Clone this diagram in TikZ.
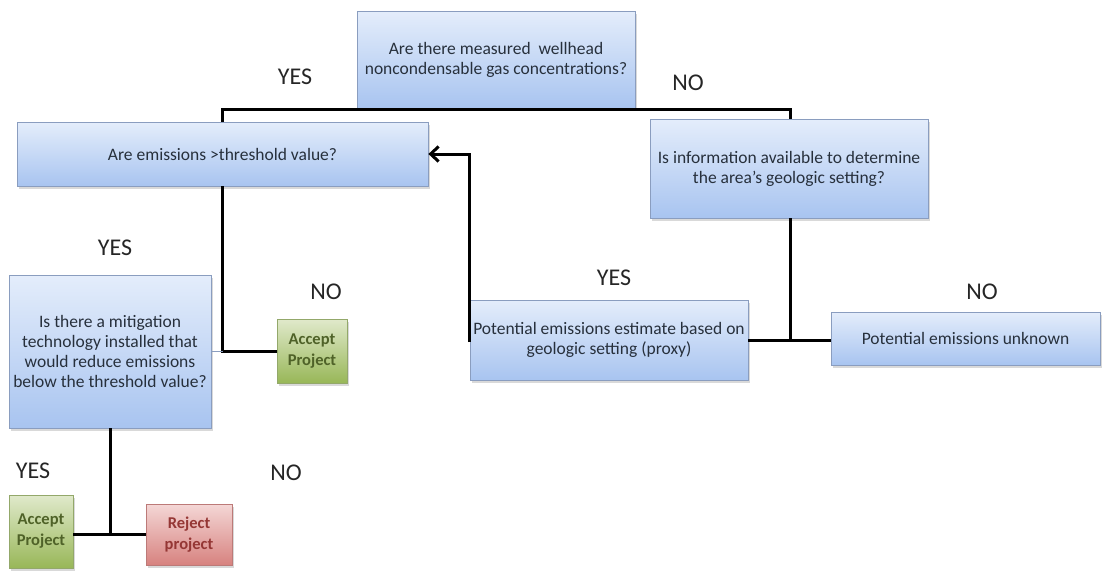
\documentclass[tikz,border=0pt]{standalone}
\usepackage{fontspec}
\setmainfont{Carlito}
\usetikzlibrary{arrows.meta,shadows}
\definecolor{bluetop}{HTML}{E4EDFB}
\definecolor{bluebot}{HTML}{A8C4F0}
\definecolor{blueborder}{HTML}{8A9DBF}
\definecolor{boxtext}{HTML}{27303C}
\definecolor{greentop}{HTML}{E0E9CB}
\definecolor{greenbot}{HTML}{98B758}
\definecolor{greenborder}{HTML}{93A86A}
\definecolor{greentext}{HTML}{4F6228}
\definecolor{redtop}{HTML}{F4D7D6}
\definecolor{redbot}{HTML}{D7827F}
\definecolor{redborder}{HTML}{BC7A78}
\definecolor{redtext}{HTML}{953735}
\definecolor{lbltext}{HTML}{262626}
\begin{document}
\begin{tikzpicture}[x=1pt,y=-1pt,
  basebox/.style={line width=0.8pt, align=center, inner sep=2pt,
    font=\fontsize{17.5}{20}\selectfont,
    drop shadow={opacity=0.3, shadow xshift=2pt, shadow yshift=-3pt}},
  qbox/.style={basebox, draw=blueborder, top color=bluetop, bottom color=bluebot, text=boxtext},
  accbox/.style={basebox, draw=greenborder, top color=greentop, bottom color=greenbot, text=greentext, font=\fontsize{16.5}{21}\selectfont\bfseries},
  rejbox/.style={basebox, draw=redborder, top color=redtop, bottom color=redbot, text=redtext, font=\fontsize{16.5}{21}\selectfont\bfseries},
  lbl/.style={font=\fontsize{24}{26}\selectfont, text=lbltext},
  conn/.style={line width=3pt, black},
  thinconn/.style={line width=1.5pt, blueborder}]
\useasboundingbox (0,0) rectangle (1102,571);

\node[qbox, minimum width=278pt, minimum height=97pt] (top) at (496,59.5)
  {Are there measured\ \ wellhead\\noncondensable gas concentrations?};
\node[qbox, minimum width=411pt, minimum height=64pt] (leftQ) at (222.5,154)
  {Are emissions >threshold value?};
\node[qbox, minimum width=278pt, minimum height=99pt] (rightQ) at (789,168.5)
  {Is information available to determine\\the\ area's geologic setting?};
\node[qbox, minimum width=202pt, minimum height=153pt] (mit) at (110,351.5)
  {Is there a mitigation\\technology installed that\\would reduce emissions\\below the threshold value?};
\node[accbox, minimum width=70pt, minimum height=64pt] (acc1) at (312,351)
  {Accept\\Project};
\node[qbox, minimum width=278pt, minimum height=80pt] (proxy) at (609,340)
  {Potential emissions estimate based on\\geologic setting (proxy)};
\node[qbox, minimum width=269pt, minimum height=53pt] (unknown) at (965.5,338.5)
  {Potential emissions unknown};
\node[accbox, minimum width=64pt, minimum height=73pt] (acc2) at (41,531.5)
  {Accept\\Project};
\node[rejbox, minimum width=86pt, minimum height=61pt] (rej) at (189,534.5)
  {Reject\\project};

\coordinate (jr) at (790,340);
\coordinate (jb) at (110,534);

\draw[conn] (leftQ.north) -- ++(0,-12) -| (rightQ.north -| jr);
\draw[conn] (leftQ.south) |- (acc1.west);
\draw[thinconn] (mit.east) -- (mit.east -| leftQ.south);
\draw[conn, -{Straight Barb[length=8pt,width=15pt]}] ([yshift=-2pt]proxy.west) |- (leftQ.east);
\draw[conn] (rightQ.south -| jr) -- (jr);
\draw[conn] (proxy.east |- jr) -- (unknown.west |- jr);
\draw[conn] (mit.south) -- (jb);
\draw[conn] (acc2.east |- jb) -- (rej.west |- jb);

\node[lbl] (l1) at (295,77) {YES};
\node[lbl] (l2) at (688,83) {NO};
\node[lbl] (l3) at (115,248) {YES};
\node[lbl] (l4) at (326,292) {NO};
\node[lbl] (l5) at (614,278) {YES};
\node[lbl] (l6) at (982,292) {NO};
\node[lbl] (l7) at (33,471) {YES};
\node[lbl] (l8) at (286,473) {NO};
\end{tikzpicture}
\end{document}
